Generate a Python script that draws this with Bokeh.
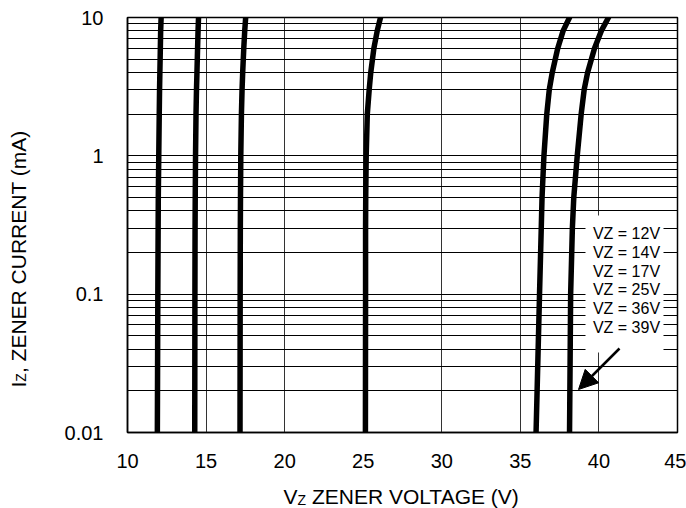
import math
from bokeh.plotting import figure
from bokeh.layouts import row, column
from bokeh.models import Range1d, FixedTicker, CustomJSTickFormatter, Arrow, NormalHead
from bokeh.core.properties import value
from bokeh.embed import file_html
from bokeh.resources import INLINE

# ---- data ----
currents_mA = [0.01, 0.1, 0.3, 0.5, 1, 2, 3, 4, 6, 8, 10]
vz_12 = [11.90, 11.93, 11.95, 11.96, 11.99, 12.02, 12.04, 12.06, 12.09, 12.11, 12.14]
vz_14 = [14.28, 14.29, 14.30, 14.31, 14.33, 14.36, 14.39, 14.42, 14.46, 14.49, 14.52]
vz_17 = [17.16, 17.17, 17.18, 17.19, 17.21, 17.25, 17.29, 17.33, 17.40, 17.46, 17.52]
vz_25 = [25.14, 25.15, 25.15, 25.16, 25.19, 25.26, 25.38, 25.48, 25.68, 25.89, 26.10]
vz_36 = [36.00, 36.22, 36.33, 36.38, 36.50, 36.68, 36.84, 37.03, 37.38, 37.72, 38.13]
vz_39 = [38.13, 38.20, 38.31, 38.40, 38.62, 38.87, 39.06, 39.28, 39.72, 40.15, 40.61]
series = [vz_12, vz_14, vz_17, vz_25, vz_36, vz_39]
series_names = ["VZ = 12V", "VZ = 14V", "VZ = 17V", "VZ = 25V", "VZ = 36V", "VZ = 39V"]
x_ticks = [10, 15, 20, 25, 30, 35, 40, 45]
y_ticks = [0.01, 0.1, 1, 10]
x_title = ("V", "Z", "ZENER VOLTAGE (V)")
y_title = ("I", "Z", ", ZENER CURRENT (mA)")

# ---- layout (page pixels) ----
W, H = 686, 508
YLAB_W = 40            # strip for the y title
XLAB_H = 28            # strip for the x title
FL, FR, FT, FB = 127, 677, 17, 432   # frame edges on the page
X0, X1 = 10, 45
Y0, Y1 = 0.01, 10
FONT = "Liberation Sans"


def px_x(px):
    return X0 + (px - FL) / (FR - FL) * (X1 - X0)


def px_y(py):
    lo, hi = math.log10(Y0), math.log10(Y1)
    return 10 ** (hi - (py - FT) / (FB - FT) * (hi - lo))


MW, MH = W - YLAB_W, H - XLAB_H
p = figure(width=MW, height=MH, x_range=Range1d(X0, X1), y_range=Range1d(Y0, Y1),
           y_axis_type="log", output_backend="svg", toolbar_location=None,
           min_border_left=FL - YLAB_W, min_border_right=W - FR, min_border_top=FT,
           min_border_bottom=MH - FB)
p.background_fill_color = "white"
p.border_fill_color = "white"
p.outline_line_color = "black"
p.outline_line_width = 1.5
p.outline_line_alpha = 1

minor = [m * d for d in y_ticks[:-1] for m in range(2, 10)]
p.xgrid.ticker = FixedTicker(ticks=x_ticks)
p.xgrid.grid_line_color = "#333333"
p.xgrid.grid_line_width = 1
p.ygrid.ticker = FixedTicker(ticks=y_ticks, minor_ticks=minor)
p.ygrid.grid_line_color = "black"
p.ygrid.grid_line_width = 1
p.ygrid.minor_grid_line_color = "black"
p.ygrid.minor_grid_line_width = 1

p.xaxis.ticker = FixedTicker(ticks=x_ticks)
p.yaxis.ticker = FixedTicker(ticks=y_ticks)
p.yaxis.formatter = CustomJSTickFormatter(code="return tick.toString();")
for ax in (p.xaxis[0], p.yaxis[0]):
    ax.axis_line_color = "black"
    ax.axis_line_width = 1.5
    ax.major_tick_in = 0
    ax.major_tick_out = 0
    ax.minor_tick_in = 0
    ax.minor_tick_out = 0
    ax.major_label_text_font = FONT
    ax.major_label_text_font_size = "20px"
    ax.major_label_text_color = "black"
p.xaxis.major_label_standoff = 21
p.yaxis.major_label_standoff = 24

# legend box (white) covering the grid
p.quad(left=px_x(585), right=px_x(663), top=px_y(215), bottom=px_y(352),
       fill_color="white", line_color=None)

for vz in series:
    p.line(vz, currents_mA, line_width=5.5, line_color="black",
           line_cap="round", line_join="round")

p.text(x=[px_x(626)] * len(series_names),
       y=[px_y(233.3 + i * 18.7) for i in range(len(series_names))],
       text=series_names, text_align="center", text_baseline="middle",
       text_font=value(FONT), text_font_size="16px", text_color="black")

p.add_layout(Arrow(end=NormalHead(size=19, fill_color="black", line_color="black"),
                   x_start=px_x(619), y_start=px_y(348), x_end=px_x(578), y_end=px_y(389),
                   line_width=2.5, line_color="black"))


def strip(w, h, x_range, y_range, bl=0, br=0):
    f = figure(width=w, height=h, x_range=x_range, y_range=y_range,
               output_backend="svg", toolbar_location=None,
               x_axis_location=None, y_axis_location=None,
               min_border_left=bl, min_border_right=br, min_border_top=0, min_border_bottom=0)
    f.grid.visible = False
    f.outline_line_color = None
    f.background_fill_color = "white"
    f.border_fill_color = "white"
    return f


TS, SS = 21, 14
w_main_v = 0.667 * TS
w_sub = 0.611 * SS
w_space = 0.278 * TS

# x title strip: same horizontal frame and x range as the main plot
xl = strip(MW, XLAB_H, p.x_range, Range1d(0, XLAB_H), bl=FL - YLAB_W, br=W - FR)
mid = H - 495.5            # caps middle of the title, strip coords (y up from strip bottom)
sub_mid = H - 499.5
xs0 = 283
xl.text(x=[px_x(xs0), px_x(xs0 + w_main_v), px_x(xs0 + w_main_v + w_sub + w_space)],
        y=[mid, sub_mid, mid],
        text=list(x_title), text_align="left", text_baseline="middle",
        text_font=value(FONT), text_font_size=[f"{TS}px", f"{SS}px", f"{TS}px"],
        text_color="black")

# y title strip (page x from 0 to YLAB_W)
yl = strip(YLAB_W, H, Range1d(0, YLAB_W), Range1d(0, H))
cx = 17.5                   # caps middle (x) of the rotated text
y_start = H - 387           # start (bottom) of the text, strip coords (y up)
w_i = 0.278 * TS
yl.text(x=[cx, cx + 3, cx], y=[y_start, y_start + w_i, y_start + w_i + w_sub],
        text=list(y_title), angle=math.pi / 2, text_align="left", text_baseline="middle",
        text_font=value(FONT), text_font_size=[f"{TS}px", f"{SS}px", f"{TS}px"],
        text_color="black")

layout = row(yl, column(p, xl, spacing=0), spacing=0)
open("out.html", "w").write(file_html(layout, INLINE))
